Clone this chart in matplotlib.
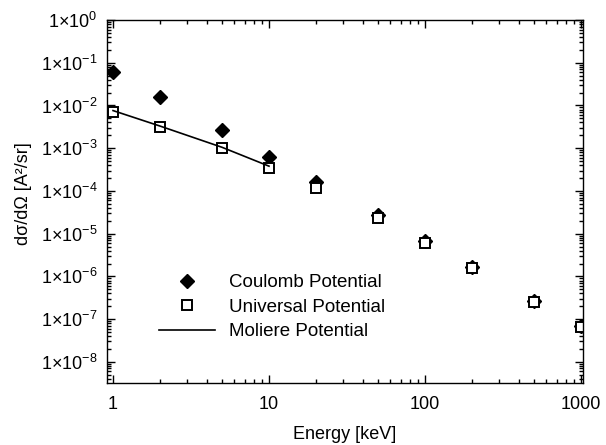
#!/usr/bin/env python3
import matplotlib
matplotlib.use("Agg")
import matplotlib.pyplot as plt
from matplotlib.ticker import FixedLocator, LogLocator, NullFormatter

plt.rcParams["font.family"] = ["Liberation Sans", "DejaVu Sans"]
plt.rcParams["mathtext.default"] = "regular"

# Energies in keV
energy = [1, 2, 5, 10, 20, 50, 100, 200, 500, 1000]
coulomb = [6.2e-2, 1.55e-2, 2.6e-3, 6.2e-4, 1.65e-4, 2.7e-5, 6.6e-6, 1.7e-6, 2.7e-7, 7.0e-8]
universal = [6.9e-3, 3.2e-3, 1.0e-3, 3.5e-4, 1.15e-4, 2.35e-5, 6.0e-6, 1.55e-6, 2.5e-7, 6.6e-8]

moliere_energy = [1, 2, 5, 10]
moliere = [7.6e-3, 3.3e-3, 1.05e-3, 3.8e-4]

y_decades = list(range(-8, 1))
y_labels = ["1×10$^{%d}$" % p for p in y_decades]
x_ticks = [1, 10, 100, 1000]
x_labels = ["1", "10", "100", "1000"]

fig = plt.figure(figsize=(6.06, 4.45), dpi=100)
ax = fig.add_axes([0.1766, 0.1393, 0.7854, 0.8157])

ax.plot(energy, coulomb, linestyle="none", marker="D", markersize=7.5,
        color="black", label="Coulomb Potential")
ax.plot(energy, universal, linestyle="none", marker="s", markersize=6.5,
        markerfacecolor="white", markeredgecolor="black", markeredgewidth=1.4,
        label="Universal Potential")
ax.plot(moliere_energy, moliere, color="black", linewidth=1.2,
        label="Moliere Potential")

ax.set_xscale("log")
ax.set_yscale("log")
ax.set_xlim(0.915, 1030)
ax.set_ylim(3.2e-9, 1.0)

ax.xaxis.set_major_locator(FixedLocator(x_ticks))
ax.set_xticklabels(x_labels)
ax.yaxis.set_major_locator(FixedLocator([10.0 ** p for p in y_decades]))
ax.set_yticklabels(y_labels)
ax.xaxis.set_minor_locator(LogLocator(base=10, subs=range(2, 10), numticks=20))
ax.yaxis.set_minor_locator(LogLocator(base=10, subs=range(2, 10), numticks=20))
ax.xaxis.set_minor_formatter(NullFormatter())
ax.yaxis.set_minor_formatter(NullFormatter())

ax.tick_params(which="both", direction="in", top=True, right=True,
               labelsize=13, width=1)
ax.tick_params(which="major", length=6)
ax.tick_params(axis="x", which="major", pad=9)
ax.tick_params(axis="y", which="major", pad=7)
ax.tick_params(which="minor", length=3)
for spine in ax.spines.values():
    spine.set_linewidth(1)

ax.set_xlabel("Energy [keV]", fontsize=13, labelpad=10)
ax.set_ylabel("dσ/dΩ [A²/sr]", fontsize=13)
ax.yaxis.set_label_coords(-0.158, 0.523)

ax.legend(loc="lower left", bbox_to_anchor=(0.073, 0.071), frameon=False,
          fontsize=13.5, handlelength=3.0, handletextpad=0.75,
          labelspacing=0.4)

fig.savefig("out.png", dpi=100)
plt.close(fig)
